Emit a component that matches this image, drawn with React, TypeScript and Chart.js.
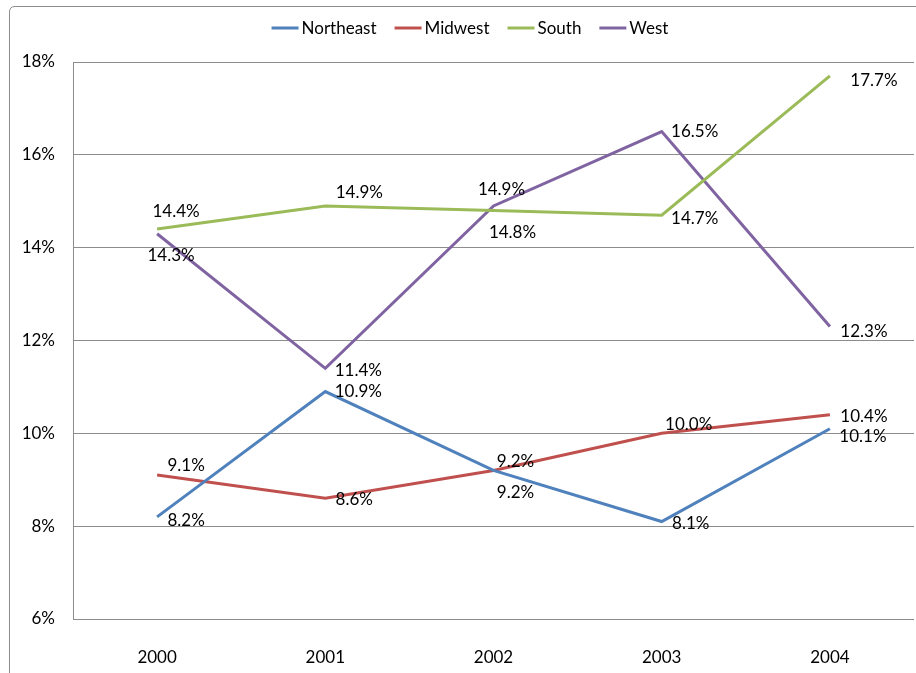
import React, { useEffect, useRef } from "react";
import { Chart, registerables } from "chart.js";

Chart.register(...registerables);

const years = ["2000", "2001", "2002", "2003", "2004"];
const northeast = [8.2, 10.9, 9.2, 8.1, 10.1];
const midwest = [9.1, 8.6, 9.2, 10.0, 10.4];
const south = [14.4, 14.9, 14.8, 14.7, 17.7];
const west = [14.3, 11.4, 14.9, 16.5, 12.3];
const seriesNames = ["Northeast", "Midwest", "South", "West"];
const yMin = 6;
const yMax = 18;
const yStep = 2;

const colors = ["#4F81BD", "#C0504D", "#9BBB59", "#8064A2"];
// label placement (text centre offset from the point, px)
const labelOffsets = [
  [[29, 4], [33, 0], [22, 22], [29, 2], [33, 8]],
  [[29, -10], [29, 1], [22, -9], [27, -9], [34, 2]],
  [[19, -18], [34, -13], [19, 22], [33, 3], [44, 5]],
  [[14, 22], [33, 2], [8, -16], [33, 0], [34, 5]],
];

const FONT = "Lato, 'Open Sans', sans-serif";

const framePlugin = {
  id: "frame",
  beforeDraw(chart: any) {
    const ctx = chart.ctx;
    ctx.save();
    ctx.fillStyle = "#ffffff";
    ctx.fillRect(0, 0, chart.width, chart.height);
    ctx.strokeStyle = "#8c8c8c";
    ctx.lineWidth = 1;
    ctx.beginPath();
    ctx.moveTo(9.5, chart.height + 5);
    ctx.lineTo(9.5, 12);
    ctx.quadraticCurveTo(9.5, 6.5, 15, 6.5);
    ctx.lineTo(chart.width + 5, 6.5);
    ctx.stroke();
    ctx.restore();
  },
};

const legendPlugin = {
  id: "customLegend",
  afterDraw(chart: any) {
    const ctx = chart.ctx;
    ctx.save();
    ctx.font = "17px " + FONT;
    ctx.textBaseline = "middle";
    const y = 28;
    const lineW = 27;
    const gapLine = 3;
    const gapItem = 18;
    const items = chart.data.datasets.map((d: any) => ({
      label: d.label,
      color: d.borderColor,
      w: lineW + gapLine + ctx.measureText(d.label).width,
    }));
    const total = items.reduce((s: number, it: any) => s + it.w, 0) + gapItem * (items.length - 1);
    let x = 470 - total / 2;
    items.forEach((it: any) => {
      ctx.strokeStyle = it.color;
      ctx.lineWidth = 3;
      ctx.beginPath();
      ctx.moveTo(x, y);
      ctx.lineTo(x + lineW, y);
      ctx.stroke();
      ctx.fillStyle = "#000";
      ctx.textAlign = "left";
      ctx.fillText(it.label, x + lineW + gapLine, y + 1);
      x += it.w + gapItem;
    });
    ctx.restore();
  },
};

const labelPlugin = {
  id: "pointLabels",
  afterDatasetsDraw(chart: any) {
    const ctx = chart.ctx;
    ctx.save();
    ctx.font = "17px " + FONT;
    ctx.fillStyle = "#000";
    ctx.textAlign = "center";
    ctx.textBaseline = "middle";
    chart.data.datasets.forEach((ds: any, di: number) => {
      const meta = chart.getDatasetMeta(di);
      meta.data.forEach((pt: any, i: number) => {
        const off = labelOffsets[di][i];
        ctx.fillText(ds.data[i].toFixed(1) + "%", pt.x + off[0], pt.y + off[1]);
      });
    });
    ctx.restore();
  },
};

export default function App() {
  const ref = useRef<HTMLCanvasElement>(null);
  useEffect(() => {
    document.body.style.margin = "0";
    const series = [northeast, midwest, south, west];
    const chart = new Chart(ref.current as HTMLCanvasElement, {
      type: "line",
      data: {
        labels: years,
        datasets: series.map((d, i) => ({
          label: seriesNames[i],
          data: d,
          borderColor: colors[i],
          backgroundColor: colors[i],
          borderWidth: 3,
          pointRadius: 0,
          tension: 0,
          fill: false,
        })),
      },
      options: {
        responsive: false,
        animation: false,
        events: [],
        layout: { padding: { top: 62, right: 2, left: 0, bottom: 0 } },
        plugins: {
          legend: { display: false },
          tooltip: { enabled: false },
          title: { display: false },
        },
        scales: {
          x: {
            offset: true,
            grid: { display: false, offset: true },
            border: { display: false },
            ticks: { color: "#000", font: { family: FONT, size: 17 }, padding: 20 },
            afterFit(scale: any) {
              scale.height = 54;
            },
          },
          y: {
            min: yMin,
            max: yMax,
            ticks: {
              stepSize: yStep,
              color: "#000",
              font: { family: FONT, size: 17 },
              padding: 18,
              callback: (v: any) => v + "%",
            },
            grid: { color: "#8c8c8c", lineWidth: 1, drawTicks: false },
            border: { display: true, color: "#8c8c8c", width: 1 },
            afterFit(scale: any) {
              scale.width = 73;
            },
          },
        },
      },
      plugins: [framePlugin, legendPlugin, labelPlugin],
    });
    return () => chart.destroy();
  }, []);
  return <canvas ref={ref} width={916} height={673} style={{ display: "block" }} />;
}
